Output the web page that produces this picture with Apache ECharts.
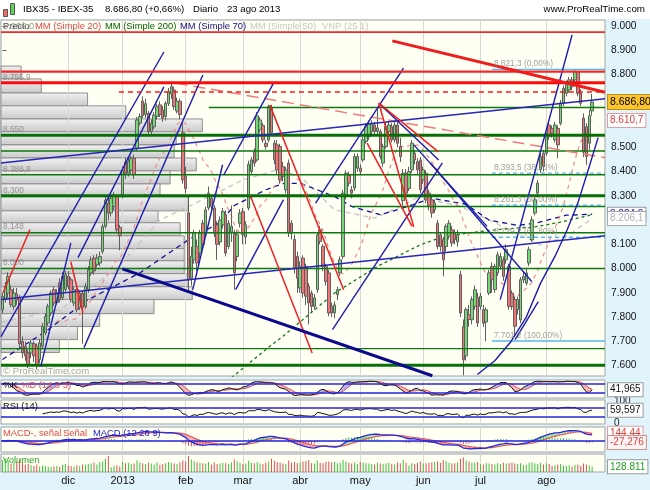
<!DOCTYPE html>
<html>
<head>
<meta charset="utf-8">
<title>IBX35 - IBEX-35</title>
<script src="https://cdn.jsdelivr.net/npm/echarts@6/dist/echarts.min.js"></script>
<style>
html,body{margin:0;padding:0;background:#e2f4fb;overflow:hidden;}
#chart{width:650px;height:490px;}
</style>
</head>
<body>
<div id="chart"></div>
<script>
const FONT = '"Liberation Sans", Arial, Helvetica, sans-serif';

// ---------------- categories ----------------
const firstDate = '2012-10-31';
const lastDate = '2013-08-29';           // the last four sessions are empty space
const holidays = ['2012-12-25','2012-12-26','2013-01-01','2013-03-29','2013-04-01','2013-05-01'];
const monthLabels = ['2013','feb','mar','abr','may','jun','jul','ago','sep','oct','nov','dic'];

// ---------------- daily candles [open, close, low, high] ----------------
const ohlc = [
[7830,7885,7815,7900],[7872,7927,7860,7945],[7899,7968,7880,7985],[7913,7851,7840,7930],[7844,7899,7830,7920],
[7895,7870,7850,7920],[7880,7690,7670,7890],[7700,7652,7630,7720],[7680,7640,7620,7700],[7652,7604,7590,7665],
[7652,7693,7630,7705],[7690,7640,7615,7700],[7680,7600,7585,7690],[7625,7693,7610,7710],[7680,7762,7670,7775],
[7735,7803,7725,7815],[7776,7844,7765,7855],[7817,7899,7805,7910],[7913,7858,7845,7925],[7860,7900,7850,7915],
[7940,7872,7860,7960],[7880,7968,7870,7985],[7913,7975,7900,7990],[7968,7927,7915,7990],[7954,7872,7860,7965],
[7858,7913,7845,7925],[7913,7831,7820,7925],[7840,7899,7830,7910],[7899,7840,7690,7910],[7844,7927,7835,7940],
[7913,7995,7900,8010],[7982,8036,7970,8050],[8043,7990,7975,8055],[8016,8043,8005,8060],[8023,8050,8010,8070],
[8071,8174,8060,8185],[8174,8283,8165,8300],[8270,8229,8200,8290],[8229,8290,8215,8300],[8256,8297,8240,8315],
[8297,8160,8150,8305],[8170,8135,8075,8180],[8300,8405,8290,8420],[8440,8390,8370,8455],[8393,8441,8380,8460],
[8407,8455,8390,8465],[8455,8387,8370,8470],[8496,8613,8485,8625],[8600,8627,8590,8640],[8690,8630,8620,8710],
[8635,8680,8620,8700],[8640,8565,8550,8650],[8565,8600,8545,8615],[8585,8633,8575,8645],[8627,8668,8615,8680],
[8675,8635,8625,8690],[8654,8620,8605,8670],[8627,8681,8610,8690],[8681,8730,8670,8745],[8720,8750,8700,8765],
[8736,8668,8655,8750],[8650,8690,8640,8705],[8690,8635,8615,8700],[8560,8366,8350,8600],[8380,8330,8310,8420],
[8230,7954,7910,8300],[7960,8050,7930,8090],[8036,8146,8020,8160],[8091,8023,7990,8120],[8064,8146,8040,8160],
[8187,8100,8085,8200],[8146,8242,8130,8255],[8250,8311,8240,8338],[8290,8255,8235,8305],[8250,8146,8130,8262],
[8180,8100,8036,8195],[8110,8200,8095,8215],[8180,8235,8165,8250],[8222,8064,8050,8240],[8091,8187,8080,8200],
[8150,8174,8110,8260],[8146,7982,7913,8160],[8050,8140,8030,8155],[8187,8229,8170,8245],[8235,8140,8100,8250],
[8130,8180,8100,8195],[8250,8430,8240,8445],[8400,8448,8390,8460],[8482,8435,8420,8495],[8448,8630,8440,8645],
[8572,8613,8560,8625],[8590,8531,8520,8600],[8517,8503,8490,8530],[8530,8668,8520,8675],[8660,8560,8550,8675],
[8517,8448,8430,8530],[8510,8407,8390,8530],[8503,8366,8350,8515],[8420,8380,8360,8440],[8325,8407,8310,8420],
[8435,8146,8130,8450],[8187,8146,8120,8200],[8120,8000,7980,8140],[8050,7960,7900,8070],[7920,8009,7900,8030],
[8043,7899,7880,8055],[8009,7886,7850,8020],[7927,7858,7770,7940],[7899,7844,7820,7910],[7844,7879,7830,7895],
[7913,8139,7900,8150],[8160,8112,8100,8175],[8091,8009,7990,8100],[8009,7947,7930,8020],[7982,7817,7803,7995],
[7844,7817,7800,7860],[7817,7850,7795,7865],[7892,7913,7870,7925],[7982,8036,7970,8050],[8050,8311,8040,8325],
[8297,8393,8285,8405],[8386,8352,8340,8400],[8325,8311,8290,8340],[8332,8462,8320,8475],[8414,8462,8400,8475],
[8414,8400,8385,8430],[8448,8531,8440,8545],[8524,8585,8515,8600],[8544,8599,8530,8610],[8565,8599,8555,8612],
[8592,8565,8550,8605],[8565,8580,8550,8660],[8565,8462,8450,8575],[8435,8503,8420,8515],[8503,8585,8495,8600],
[8565,8592,8550,8605],[8585,8531,8520,8600],[8531,8592,8520,8610],[8592,8517,8500,8610],[8503,8462,8440,8540],
[8280,8393,8260,8410],[8393,8311,8300,8410],[8330,8400,8320,8420],[8407,8517,8395,8530],[8476,8448,8430,8490],
[8441,8407,8390,8455],[8448,8325,8310,8460],[8366,8407,8350,8420],[8393,8283,8270,8405],[8311,8256,8240,8325],
[8283,8229,8210,8295],[8242,8270,8230,8285],[8187,8091,8080,8200],[8139,8091,8070,8150],[8119,8036,7968,8130],
[8091,8174,8070,8185],[8133,8187,8120,8200],[8160,8105,8090,8175],[8146,8119,8100,8160],[8110,8140,8090,8160],
[7975,7817,7800,7990],[7760,7625,7560,7790],[7640,7831,7620,7840],[7810,7790,7760,7850],[7789,7872,7770,7885],
[7844,7913,7830,7930],[7880,7776,7760,7900],[7844,7886,7830,7900],[7830,7775,7760,7850],[7780,7830,7701,7840],
[7899,7982,7890,7995],[8009,7954,7900,8025],[7913,8009,7900,8020],[7982,8057,7970,8070],[8009,8050,7995,8065],
[8036,7968,7950,8050],[8036,8078,8020,8100],[8009,7844,7830,8020],[7899,7844,7830,7910],[7872,7762,7720,7885],
[7831,7872,7810,7885],[7789,7954,7775,7965],[7954,7968,7940,7985],[7940,7982,7930,8000],[8023,8078,8010,8090],
[8119,8201,8110,8215],[8229,8284,8220,8295],[8311,8352,8300,8365],[8407,8462,8395,8475],[8476,8420,8400,8490],
[8476,8544,8465,8560],[8592,8544,8530,8605],[8578,8558,8540,8590],[8531,8592,8520,8605],[8578,8510,8455,8590],
[8599,8682,8590,8695],[8682,8743,8670,8755],[8723,8764,8710,8775],[8736,8778,8725,8790],[8778,8750,8735,8790],
[8778,8812,8765,8821],[8810,8723,8710,8815],[8723,8682,8670,8740],[8620,8480,8460,8640],[8585,8462,8428,8600],
[8517,8630,8490,8655],[8650,8687,8630,8720]
];

// ---------------- daily volume (thousands) ----------------
const volume = [
300,340,280,200,230,260,320,240,180,200, 170,150,190,140,160,150,130,120,140,150,
130,180,200,160,150,140,170,150,190,180, 200,210,230,190,250,260,330,400,120,150,
170,140,250,220,230,200,210,290,240,220, 200,230,210,190,240,180,200,220,250,230,
210,200,240,290,260,400,310,270,240,230, 220,210,250,190,240,200,210,230,220,200,
240,310,260,230,200,210,280,230,220,250, 210,200,230,260,330,280,250,240,210,200,
290,230,250,220,240,260,270,300,220,210, 290,230,220,250,260,240,250,220,230,300,
260,230,210,240,200,250,230,220,210,200, 190,230,210,200,220,230,200,190,240,220,
300,230,160,220,200,230,260,210,220,230, 240,250,260,230,300,270,230,210,220,240,
330,360,290,260,230,240,250,200,190,220, 210,200,190,220,200,230,210,220,240,210,
200,220,170,180,230,240,210,200,230,190, 220,200,150,170,190,200,160,150,170,140,
180,190,150,210,190,160,129
];

// ---------------- axis ticks ----------------
const priceTicks = [7600,7700,7800,7900,8000,8100,8200,8300,8400,8500,8600,8700,8800,8900,9000];
const stochLevels = [80, 20];
const rsiLevels = [70, 30];
const rsiTicks = [0, 100];
const macdLevels = [0];

// ---------------- moving averages [session index, value] ----------------
const sma70Pts = [[0,7625],[15,7740],[30,7872],[48,7982],[65,8119],[76,8190],[81,8260],[92,8325],[98,8350],[104,8352],[116,8297],[122,8256],[132,8222],[140,8250],[150,8290],[162,8265],[170,8200],[180,8178],[186,8187],[197,8220],[206,8224]];
const sma50Pts = [[0,7780],[20,7830],[40,8000],[55,8200],[76,8318],[84,8366],[96,8407],[104,8380],[116,8242],[130,8208],[139,8256],[146,8300],[151,8280],[160,8256],[170,8201],[177,8160],[188,8098],[197,8133],[206,8206]];
const sma200Pts = [[80,7550],[92,7666],[98,7721],[116,7899],[131,8009],[146,8098],[151,8119],[162,8146],[174,8162],[186,8172],[194,8189],[206,8222]];

// ---------------- drawn objects [session index, price] ----------------
const redLevels = [8975, 8812, 8766];
const redDashedLevels = [[40.7, 8728]];
const greenThickLevels = [8550, 8300, 7601];
const greenThinLevels = [8485, 8386.8, 8148, 8000, 7670];
const greenPartialLevels = [[72.1, 8664], [122.3, 8256]];
const levelTexts = [[8766,'8.755,9'],[8550,'8.550'],[8386.8,'8.386,8'],[8300,'8.300'],[8148,'8.148'],[8000,'8.000']];
const fibStart = 171.0;
const fibSolid = [8821.3, 7701.2];
const fibDashed = [8393.5, 8261.3, 8129.2];
const fibTexts = [[8821.3,'8.821,3 (0,00%)'],[8393.5,'8.393,5 (38,20%)'],[8261.3,'8.261,3 (50,00%)'],[8129.2,'8.129,2 (61,80%)'],[7701.2,'7.701,2 (100,00%)']];
const redThickTrend = [[136.2, 8939], [210.5, 8727]];
const navyThickTrend = [[41.9, 7999], [150.2, 7558]];
const blueLongTrends = [[[-0.5, 7872], [210.5, 8135]], [[-0.5, 8435], [210.5, 8700]]];
const blueTrends = [
  [[-0.5,7719],[56.4,8893]], [[28.5,7674],[70.0,8798]], [[26.4,8045],[56.4,8749]], [[13.4,7596],[23.9,8106]],
  [[66.5,7913],[76.9,8428]], [[77.3,8386],[94.7,8765]], [[81.5,7913],[98.2,8284]],
  [[109.4,8270],[140.1,8827]], [[115.3,7748],[153.7,8436]],
  [[131.5,8682],[152.4,8448]], [[143.7,8510],[169.3,8174]], [[149.5,8435],[184.9,7947]],
  [[173.9,7872],[199.0,8963]], [[179.1,7707],[187.2,7864]]
];
const blueCurve = [[165.9,7563],[172,7620],[177.4,7695],[183,7800],[188,7940],[193,8050],[197.3,8160],[201,8270],[204.2,8390],[208.1,8540]];
const redTrends = [
  [[0.2,7900],[9.6,8160]], [[23.9,8028],[28.1,7818]],
  [[93.4,8675],[119.2,7913]], [[86.7,8297],[108.2,7652]],
  [[131.5,8682],[152.3,8481]], [[131.5,8682],[143.7,8172]], [[127.4,8517],[143.1,8174]]
];
const pinkDashedTrend = [[60.5, 8765], [210.5, 8457]];

// ---------------- volume profile (VNP 25) : price edges and volume per row ----------------
const profileEdges = [8835,8782,8724,8671,8617,8564,8510,8456,8403,8349,8296,8238,8189,8135,8082,8032,7979,7925,7872,7814,7761,7707,7654];
const profileVolume = [10,20,43,62,100,87,86,97,84,79,93,78,89,91,91,91,93,95,76,49,38,29];

// ---------------- last values printed on the right axis ----------------
const lastClose = 8686.8, lastSma20 = 8610.7, lastSma70 = 8224.0, lastSma50 = 8206.1;
const lastK = 41.965, lastRsi = 59.597, lastMacd = 144.44, lastHist = -27.276, lastVolK = 128.811;

// =====================================================================
function buildDates(){
  const out = [];
  const t0 = Date.parse(firstDate + 'T00:00:00Z'), t1 = Date.parse(lastDate + 'T00:00:00Z');
  for (let t = t0; t <= t1; t += 86400000){
    const d = new Date(t), wd = d.getUTCDay(), s = d.toISOString().slice(0,10);
    if (wd > 0 && wd < 6 && holidays.indexOf(s) < 0) out.push(s);
  }
  return out;
}
const dates = buildDates();
const XMIN = -0.5, XMAX = dates.length - 0.5;
const monthStarts = [];
dates.forEach((d,i)=>{ if (i > 1 && d.slice(0,7) !== dates[i-1].slice(0,7)) monthStarts.push(i); });
const monthStartSet = new Set(monthStarts);

function fmt(v, dec){
  const neg = v < 0;
  const s = Math.abs(v).toFixed(dec).split('.');
  const ip = s[0].replace(/\B(?=(\d{3})+(?!\d))/g, '.');
  return (neg ? '-' : '') + ip + (s[1] ? ',' + s[1] : '');
}

// indicators derived from the candles
const closes = ohlc.map(r => r[1]);
const sma20 = closes.map((_,i)=> i < 19 ? '-' : closes.slice(i-19, i+1).reduce((a,b)=>a+b,0)/20);
function ema(arr, n){ const k = 2/(n+1); let e = arr[0]; return arr.map((v,i)=> (e = i === 0 ? v : v*k + e*(1-k))); }
const ema12 = ema(closes,12), ema26 = ema(closes,26);
const macd = closes.map((_,i)=> ema12[i] - ema26[i]);
const signal = ema(macd, 9);
const hist = macd.map((m,i)=> m - signal[i]);
function rsiCalc(arr, n){
  const out = ['-']; let ag = 0, al = 0;
  for (let i = 1; i < arr.length; i++){
    const ch = arr[i] - arr[i-1], g = Math.max(ch,0), l = Math.max(-ch,0);
    if (i <= n){ ag += g/n; al += l/n; } else { ag = (ag*(n-1)+g)/n; al = (al*(n-1)+l)/n; }
    out.push(i < n ? '-' : (al === 0 ? 100 : 100 - 100/(1+ag/al)));
  }
  return out;
}
const rsi = rsiCalc(closes, 14);
function meanBack(arr, i, n){ const w = arr.slice(Math.max(0, i-n+1), i+1); return w.reduce((a,b)=>a+b,0)/w.length; }
const rawK = ohlc.map((r,i)=>{ const w = ohlc.slice(Math.max(0,i-13), i+1); const hh = Math.max(...w.map(x=>x[3])), ll = Math.min(...w.map(x=>x[2])); return hh === ll ? 50 : (r[1]-ll)/(hh-ll)*100; });
const stochK = rawK.map((_,i)=> meanBack(rawK, i, 3));
const stochD = stochK.map((_,i)=> meanBack(stochK, i, 5));

function bands(a, b){ const out = []; for (let i = 0; i < a.length-1; i++){ if (typeof a[i] === 'number' && typeof b[i] === 'number') out.push([i, a[i], b[i], a[i+1], b[i+1]]); } return out; }
function bandRender(up, down){
  return function(params, api){
    const i = api.value(0), a0 = api.value(1), b0 = api.value(2), a1 = api.value(3), b1 = api.value(4);
    const pts = [api.coord([i,a0]), api.coord([i+1,a1]), api.coord([i+1,b1]), api.coord([i,b0])];
    return {type:'polygon', shape:{points:pts}, style:{fill: (a0+a1) >= (b0+b1) ? up : down}};
  };
}

// =====================================================================
const GR = {left:1, right:45};
const panelStyle = {show:true, backgroundColor:'#fffff4', borderColor:'#a3a3a3', borderWidth:1};
const grids = [
  Object.assign({top:20, height:356}, GR, panelStyle),
  Object.assign({top:380, height:18}, GR, panelStyle),
  Object.assign({top:400, height:24}, GR, panelStyle),
  Object.assign({top:427, height:25}, GR, panelStyle),
  Object.assign({top:454, height:18}, GR, panelStyle)
];
function catAxis(g, showLabels){
  return {type:'category', gridIndex:g, data:dates, boundaryGap:true,
    axisLine:{show:false}, axisTick:{show:false}, splitLine:{show:false},
    axisLabel: showLabels ? {show:true, interval:(idx)=>monthStartSet.has(idx), margin:3,
      formatter:(v)=> monthLabels[parseInt(v.slice(5,7),10)-1], color:'#111', fontSize:11, fontFamily:FONT} : {show:false}};
}
const hiddenVal = (g,min,max)=>({type:'value', gridIndex:g, min, max, show:false});
const xAxes = [
  catAxis(0,false), hiddenVal(0, XMIN, XMAX), hiddenVal(0, 0, 300),
  catAxis(1,false), catAxis(2,false), catAxis(3,false), catAxis(4,true)
];
const yAxes = [
  {type:'value', gridIndex:0, position:'right', min:7557, max:9025, splitLine:{show:false}, axisLine:{show:false},
   axisTick:{show:true, customValues:priceTicks, length:4, lineStyle:{color:'#666'}},
   axisLabel:{show:true, customValues:priceTicks, margin:6, formatter:(v)=>fmt(v,0), color:'#111', fontSize:10.2, fontFamily:FONT}},
  {type:'value', gridIndex:1, min:-13.3, max:106.7, show:false},
  {type:'value', gridIndex:2, position:'right', min:-3, max:106, splitLine:{show:false}, axisLine:{show:false}, axisTick:{show:false},
   axisLabel:{show:true, customValues:rsiTicks, margin:9, color:'#222', fontSize:10, fontFamily:FONT}},
  {type:'value', gridIndex:3, min:-204, max:260, show:false},
  {type:'value', gridIndex:4, min:0, max:450, show:false}
];

const series = [];
// volume profile
series.push({type:'custom', name:'VNP', xAxisIndex:2, yAxisIndex:0, z:1, silent:true,
  data: profileVolume.map((v,k)=>[v, profileEdges[k+1], profileEdges[k]]),
  encode:{x:0, y:[1,2]},
  renderItem:(p, api)=>{
    const tl = api.coord([0, api.value(2)]), br = api.coord([api.value(0), api.value(1)]);
    return {type:'rect', shape:{x:tl[0], y:tl[1], width:br[0]-tl[0], height:br[1]-tl[1]},
      style:{fill:{type:'linear', x:0, y:0, x2:0, y2:1, colorStops:[{offset:0,color:'#f2f2f2'},{offset:1,color:'#c9c9c9'}]}, stroke:'#8e8e8e', lineWidth:1}};
  }});
// month grid lines
function monthLines(xi, yi, y){
  return {type:'line', xAxisIndex:xi, yAxisIndex:yi, data:[[monthStarts[0], y]], symbol:'none', silent:true, z:2,
    lineStyle:{opacity:0},
    markLine:{silent:true, z:2, symbol:['none','none'], animation:false, label:{show:false},
      lineStyle:{color:'#d8d8d8', width:1, type:'solid'}, data: monthStarts.map(i=>({xAxis:i}))}};
}
series.push(monthLines(1, 0, 8000));
series.push(monthLines(3, 1, 50));
series.push(monthLines(4, 2, 50));
series.push(monthLines(5, 3, 0));
series.push(monthLines(6, 4, 0));

// moving averages
function maLine(data, xi, color, dash, w){
  return {type:'line', xAxisIndex:xi, yAxisIndex:0, data, symbol:'none', silent:true, z:3, connectNulls:false,
    lineStyle:{color, width:w, type:dash}};
}
series.push(maLine(sma50Pts, 1, '#c4c4c4', [5,4], 1.3));
series.push(maLine(sma200Pts, 1, '#157a15', [3,3], 1.3));
series.push(maLine(sma70Pts, 1, '#10109a', [5,4], 1.3));
series.push(maLine(sma20, 0, '#f08a8a', [4,4], 1.2));

// candles + right-side price tags
function tag(value, text, color, bg, border, extra){
  return {yAxis:value, label:Object.assign({show:true, position:'end', distance:3, formatter:text, color, backgroundColor:bg,
    borderColor:border, borderWidth:1, padding:[2,2,1,2], fontSize:10, fontFamily:FONT}, extra||{})};
}
const noLine = {color:'transparent', width:0};
series.push({type:'candlestick', xAxisIndex:0, yAxisIndex:0, data:ohlc, barWidth:3, z:5,
  itemStyle:{color:'#74d874', color0:'#ef7676', borderColor:'#5e5e5e', borderColor0:'#5e5e5e', borderWidth:1},
  markLine:{silent:true, z:10, symbol:['none','none'], animation:false, lineStyle:noLine, data:[
    tag(lastSma70, fmt(lastSma70,1), '#1010c0', '#ffffff', '#9a9a9a'),
    tag(lastSma50, fmt(lastSma50,1), '#b0b0b0', '#ffffff', '#a8a8a8'),
    tag(lastSma20, fmt(lastSma20,1), '#e03c3c', '#ffffff', '#e0a0a0'),
    tag(lastClose, fmt(lastClose,2), '#000000', '#fcc52f', '#b8901c', {fontSize:10.5})
  ]}});

// drawings
function seg(points, color, width, dash, z){
  return {type:'line', xAxisIndex:1, yAxisIndex:0, data:points, symbol:'none', silent:true, z:z||6,
    lineStyle:{color, width, type:dash||'solid'}};
}
const fullWidth = (v)=>[[XMIN, v], [XMAX, v]];
greenThinLevels.forEach(v=>series.push(seg(fullWidth(v), '#0a7a0a', 1.4)));
greenThickLevels.forEach(v=>series.push(seg(fullWidth(v), '#067006', 3)));
greenPartialLevels.forEach(([s,v])=>series.push(seg([[s,v],[XMAX,v]], '#0a7a0a', 1.4)));
fibSolid.forEach(v=>series.push(seg([[fibStart,v],[XMAX,v]], '#55b8ee', 1.4)));
fibDashed.forEach(v=>series.push(seg([[fibStart,v],[XMAX,v]], '#55b8ee', 1.4, [4,3])));
series.push(seg(pinkDashedTrend, '#f27a7a', 1.5, [12,6]));
blueLongTrends.forEach(p=>series.push(seg(p, '#2626b8', 1.5)));
blueTrends.forEach(p=>series.push(seg(p, '#1c1cb0', 1.4)));
series.push(seg(blueCurve, '#1c1cb0', 1.4));
redTrends.forEach(p=>series.push(seg(p, '#f02020', 1.5)));
series.push(seg(navyThickTrend, '#0a0a8c', 3));
series.push(seg(fullWidth(redLevels[0]), '#ee2a2a', 1.6));
series.push(seg(fullWidth(redLevels[1]), '#ee2a2a', 2.2));
series.push(seg(fullWidth(redLevels[2]), '#ff0a0a', 3));
redDashedLevels.forEach(([s,v])=>series.push(seg([[s,v],[XMAX,v]], '#ff1a1a', 1.5, [5,4])));
series.push(seg(redThickTrend, '#ee1c1c', 3));

// text labels on drawings
function textMarks(items, color){
  return {type:'scatter', xAxisIndex:1, yAxisIndex:0, silent:true, z:7, symbolSize:1, itemStyle:{color:'transparent'},
    data: items.map(([x,y,t])=>({value:[x,y], label:{show:true, formatter:t}})),
    label:{position:'top', align:'left', distance:1, offset:[2,0], color, fontSize:8.3, fontFamily:FONT}};
}
series.push(textMarks(levelTexts.map(([v,t])=>[XMIN, v, t]), '#7e7e7e'));
series.push(textMarks(fibTexts.map(([v,t])=>[fibStart, v, t]), '#8a8a8a'));

// ---- stochastic panel ----
const levelLine = (v)=>({yAxis:v, lineStyle:{color:'#2424dc', width:1.5, type:'solid'}, label:{show:false}});
series.push({type:'custom', xAxisIndex:3, yAxisIndex:1, z:3, silent:true, data:bands(stochK, stochD), encode:{x:0,y:[1,2,3,4]},
  renderItem:bandRender('#b4b4f4', '#f6b2b2')});
series.push({type:'line', xAxisIndex:3, yAxisIndex:1, data:stochD, symbol:'none', silent:true, z:4, lineStyle:{color:'#e05050', width:1}});
series.push({type:'line', xAxisIndex:3, yAxisIndex:1, data:stochK, symbol:'none', silent:true, z:5, lineStyle:{color:'#111', width:1},
  markLine:{silent:true, z:6, symbol:['none','none'], animation:false, data:[
    ...stochLevels.map(levelLine),
    Object.assign(tag(lastK, fmt(lastK,3), '#111', '#ffffff', '#9a9a9a'), {lineStyle:noLine})
  ]}});

// ---- RSI panel ----
series.push({type:'line', xAxisIndex:4, yAxisIndex:2, data:rsi, symbol:'none', silent:true, z:5, lineStyle:{color:'#111', width:1},
  markLine:{silent:true, z:6, symbol:['none','none'], animation:false, data:[
    ...rsiLevels.map(levelLine),
    Object.assign(tag(lastRsi, fmt(lastRsi,3), '#111', '#ffffff', '#9a9a9a'), {lineStyle:noLine})
  ]}});

// ---- MACD panel ----
series.push({type:'custom', xAxisIndex:5, yAxisIndex:3, z:3, silent:true, data:bands(macd, signal), encode:{x:0,y:[1,2,3,4]},
  renderItem:bandRender('#a6e8a6', '#f4b0b0')});
series.push({type:'bar', xAxisIndex:5, yAxisIndex:3, barWidth:1, silent:true, z:4,
  data: hist.map(v=>({value:v, itemStyle:{color: v >= 0 ? '#3cb83c' : '#e04848'}}))});
series.push({type:'line', xAxisIndex:5, yAxisIndex:3, data:signal, symbol:'none', silent:true, z:5, lineStyle:{color:'#e86060', width:1.3}});
series.push({type:'line', xAxisIndex:5, yAxisIndex:3, data:macd, symbol:'none', silent:true, z:6, lineStyle:{color:'#2828e0', width:1.3},
  markLine:{silent:true, z:7, symbol:['none','none'], animation:false, data:[
    ...macdLevels.map(levelLine),
    Object.assign(tag(lastMacd, fmt(lastMacd,2), '#e03c3c', '#ffffff', '#e0a0a0'), {lineStyle:noLine}),
    Object.assign(tag(lastHist, fmt(lastHist,3), '#e03c3c', '#fff4f4', '#d09090'), {lineStyle:noLine})
  ]}});

// ---- volume panel ----
series.push({type:'bar', xAxisIndex:6, yAxisIndex:4, barWidth:1, silent:true, z:4,
  data: volume.map((v,i)=>({value:v, itemStyle:{color: ohlc[i][1] >= ohlc[i][0] ? '#3cc43c' : '#e05050'}})),
  markLine:{silent:true, z:7, symbol:['none','none'], animation:false, lineStyle:noLine, data:[
    tag(lastVolK, fmt(lastVolK*1000,0), '#22a022', '#ffffff', '#9a9a9a')
  ]}});

// ---- texts ----
const txt = (left, top, text, fill, size, extra)=>Object.assign({type:'text', left, top, z:50, silent:true,
  style:{text, fill, fontSize:size, fontFamily:FONT}}, extra||{});
const graphic = [
  {type:'rect', left:0, top:0, z:40, silent:true, shape:{width:650, height:19}, style:{fill:'#ffffff'}},
  {type:'rect', left:3, top:9, z:45, silent:true, shape:{width:4, height:7}, style:{fill:'#ee6b6b', stroke:'#555', lineWidth:1}},
  {type:'rect', left:10, top:3, z:45, silent:true, shape:{width:4, height:11}, style:{fill:'#5ad55a', stroke:'#555', lineWidth:1}},
  txt(23, 4, 'IBX35 - IBEX-35', '#000', 9.6),
  txt(105, 4, '8.686,80 (+0,66%)', '#000', 9.6),
  txt(193, 4, 'Diario', '#000', 9.6),
  txt(227, 4, '23 ago 2013', '#000', 9.6),
  {type:'text', right:5, top:4, z:50, silent:true, style:{text:'www.ProRealTime.com', fill:'#000', fontSize:9.8, fontFamily:FONT}},
  txt(3, 22, '8.966,0', '#9a9a9a', 9.4),
  txt(3, 22, 'Precio', '#5a5a5a', 9.4),
  txt(35, 22, 'MM (Simple 20)', '#e04848', 9.4),
  txt(105, 22, 'MM (Simple 200)', '#006400', 9.4),
  txt(180, 22, 'MM (Simple 70)', '#10108c', 9.4),
  txt(250, 22, 'MM (Simple 50)', '#c6c6c6', 9.4),
  txt(322, 22, 'VNP (25 1)', '#c6c6c6', 9.4),
  txt(3, 366, '\u00a9 ProRealTime.com', '#a8a8a8', 9.6),
  txt(3, 381, '%K', '#111', 9.4),
  txt(21, 381, '%D (14 3 5)', '#e05050', 9.4),
  txt(3, 402, 'RSI (14)', '#111', 9.4),
  txt(3, 429, 'MACD-, se\u00f1al', '#e04848', 9.4),
  txt(63, 429, 'Se\u00f1al', '#e04848', 9.4),
  txt(93, 429, 'MACD (12 26 9)', '#2222d0', 9.4),
  txt(3, 456, 'Volumen', '#2aa82a', 9.4)
];

const chart = echarts.init(document.getElementById('chart'), null, {renderer:'canvas'});
chart.setOption({
  backgroundColor:'#e2f4fb',
  animation:false,
  grid:grids,
  xAxis:xAxes,
  yAxis:yAxes,
  series,
  graphic
});
</script>
</body>
</html>
